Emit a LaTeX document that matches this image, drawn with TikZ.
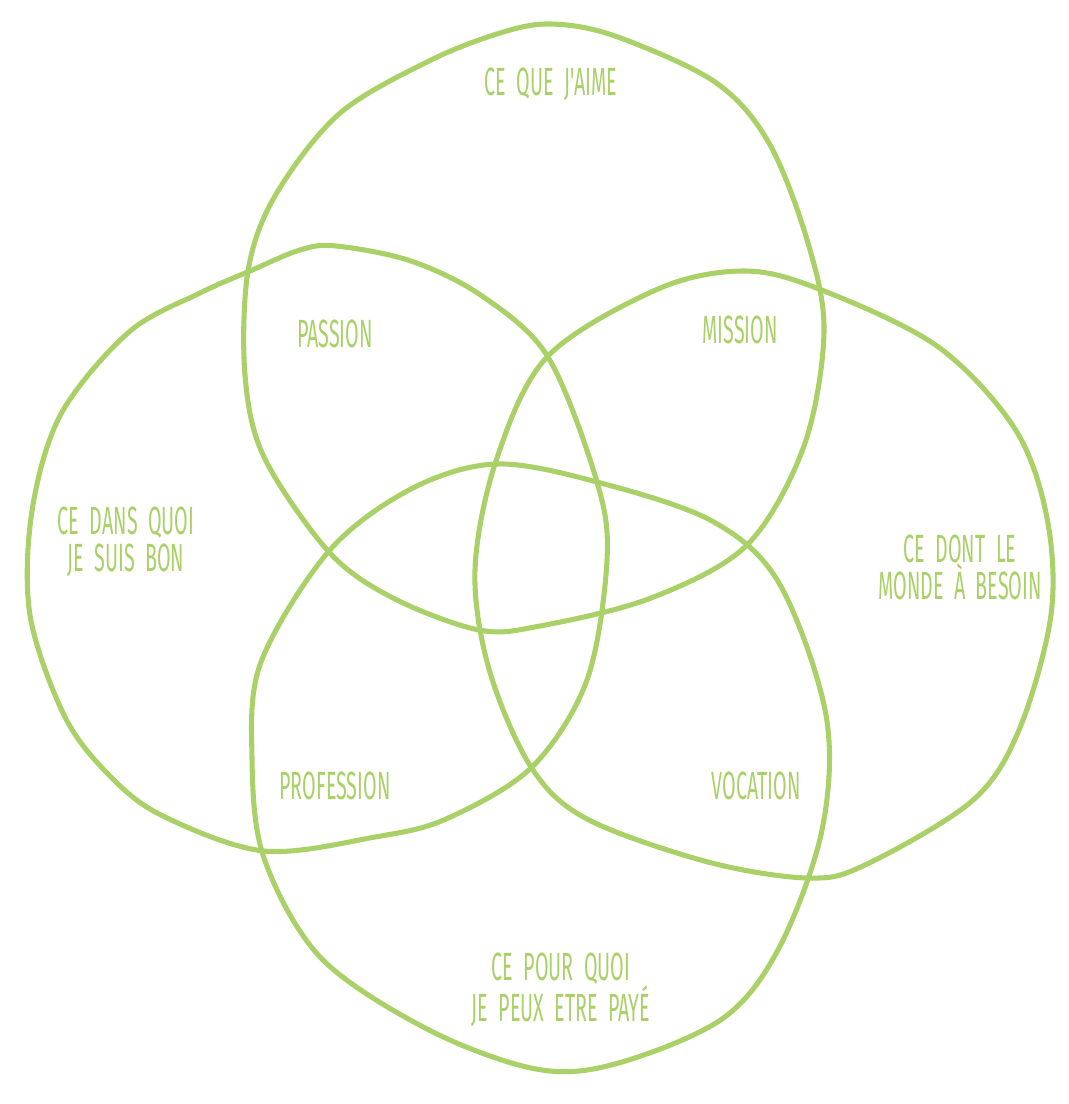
\documentclass[tikz,border=0pt]{standalone}
\usepackage{fontspec}
\newfontfamily\handfont[FakeStretch=0.5,WordSpace=2]{Fira Sans}
\definecolor{ikigreen}{RGB}{170,208,104}
\begin{document}
\begin{tikzpicture}[x=0.025cm,y=-0.025cm,
    blob/.style={draw=ikigreen, line width=3.6pt, line join=round},
    lbl/.style={text=ikigreen, align=center, inner sep=0pt,
        font=\handfont\fontsize{28}{26.3}\selectfont}]
    \useasboundingbox (0,0) rectangle (1068,1104);

    % Ce que j'aime (top)
    \draw[blob] plot[smooth cycle, tension=0.55] coordinates {
        (551,24) (615,36) (715,82) (769,143) (808,243) (824,332) (804,446)
        (747,545) (651,598) (540,626) (479,630) (393,598) (329,552)
        (264,457) (245,375) (248,271) (275,196) (339,114) (429,61) (500,33)};

    % Ce dans quoi je suis bon (left)
    \draw[blob] plot[smooth cycle, tension=0.55] coordinates {
        (336,246) (411,261) (482,296) (548,357) (597,482) (607,560) (587,680)
        (532,767) (446,819) (375,837) (264,851) (161,815) (107,773) (64,715)
        (30,615) (32,511) (61,414) (129,332) (200,293) (250,271) (300,250)};

    % Ce dont le monde a besoin (right)
    \draw[blob] plot[smooth cycle, tension=0.55] coordinates {
        (744,271) (819,289) (937,346) (1015,429) (1047,518) (1051,615)
        (1019,730) (972,801) (865,865) (808,878) (708,862) (587,819)
        (531,767) (489,669) (475,570) (496,461) (547,357) (658,289)};

    % Ce pour quoi je peux etre paye (bottom)
    \draw[blob] plot[smooth cycle, tension=0.55] coordinates {
        (496,464) (597,482) (712,521) (779,583) (826,715) (822,830) (779,948)
        (722,1019) (615,1064) (536,1069) (429,1030) (321,958) (264,858)
        (252,758) (261,662) (329,551) (411,489)};

    % Labels of the four circles
    \node[lbl] (aime) at (551,84) {CE QUE J'AIME};
    \node[lbl] (bon) at (126,542) {CE DANS QUOI\\JE SUIS BON};
    \node[lbl] (besoin) at (960,567) {CE DONT LE\\MONDE À BESOIN};
    \node[lbl] (paye) at (561,990) {CE POUR QUOI\\JE PEUX ETRE PAYÉ};

    % Labels of the overlaps
    \node[lbl] (passion) at (335,334) {PASSION};
    \node[lbl] (mission) at (740,330) {MISSION};
    \node[lbl] (profession) at (335,786) {PROFESSION};
    \node[lbl] (vocation) at (756,786) {VOCATION};
\end{tikzpicture}
\end{document}
